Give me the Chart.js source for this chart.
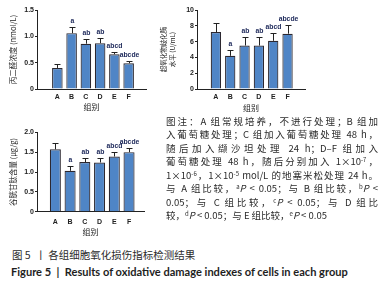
<!DOCTYPE html>
<html lang="zh">
<head>
<meta charset="utf-8">
<script src="https://cdn.jsdelivr.net/npm/chart.js@4.4.0/dist/chart.umd.min.js"></script>
<style>
  html, body { margin: 0; padding: 0; background: #fff; }
  body { width: 390px; height: 287px; position: relative; overflow: hidden;
         font-family: "Noto Sans CJK SC", sans-serif; color: #2b2b2b; }
  canvas { position: absolute; }
  .note { position: absolute; left: 166px; top: 114.8px; width: 212px;
          font-size: 9.5px; line-height: 13.5px; }
  .note div { text-align: justify; text-align-last: justify; height: 13.5px; }
  .note div.last { text-align-last: left; }
  sup { font-size: 6px; vertical-align: 3.5px; line-height: 0; }
  .cap1 { position: absolute; left: 12px; top: 249px; font-size: 10.5px; line-height: 12px; white-space: nowrap; }
  .cap2 { position: absolute; left: 11px; top: 266px; font-size: 10px; line-height: 12px; white-space: nowrap;
          font-family: Lato, "Liberation Sans", sans-serif; font-weight: bold; color: #1e1e1e; }
</style>
</head>
<body>
<canvas id="mdaChart" width="150" height="115" style="left:0;top:0"></canvas>
<canvas id="sodChart" width="155" height="115" style="left:155px;top:0"></canvas>
<canvas id="gshChart" width="150" height="122" style="left:0;top:120px"></canvas>

<div class="note">
  <div>图注：A 组常规培养，不进行处理；B 组加</div>
  <div>入葡萄糖处理；C 组加入葡萄糖处理 48 h，</div>
  <div>随后加入缬沙坦处理 24 h；D–F 组加入</div>
  <div>葡萄糖处理 48 h，随后分别加入 1×10<sup>-7</sup>，</div>
  <div>1×10<sup>-6</sup>，1×10<sup>-5</sup> mol/L 的地塞米松处理 24 h。</div>
  <div>与 A 组比较，<sup>a</sup><i>P</i> &lt; 0.05；与 B 组比较，<sup>b</sup><i>P</i> &lt;</div>
  <div>0.05；与 C 组比较，<sup>c</sup><i>P</i> &lt; 0.05；与 D 组比</div>
  <div class="last">较，<sup>d</sup><i>P</i> &lt; 0.05；与 E 组比较，<sup>e</sup><i>P</i> &lt; 0.05</div>
</div>
<div class="cap1">图 5 &nbsp;丨 各组细胞氧化损伤指标检测结果</div>
<div class="cap2" id="cap2">Figure 5 &nbsp;| &nbsp;Results of oxidative damage indexes of cells in each group</div>

<script>
// 1. Data
const groups = ['A', 'B', 'C', 'D', 'E', 'F'];

const mdaMeans = [0.40, 1.06, 0.86, 0.87, 0.66, 0.49];
const mdaErr   = [0.07, 0.12, 0.09, 0.10, 0.05, 0.04];
const mdaSig   = ['', 'a', 'ab', 'ab', 'abcd', 'abcde'];

const sodMeans = [7.2, 4.2, 5.5, 5.5, 6.1, 7.0];
const sodErr   = [1.2, 0.8, 1.1, 1.1, 1.0, 1.1];
const sodSig   = ['', 'a', 'ab', 'ab', 'abcd', 'abcde'];

const gshMeans = [1.57, 1.03, 1.25, 1.24, 1.39, 1.50];
const gshErr   = [0.15, 0.11, 0.11, 0.11, 0.12, 0.11];
const gshSig   = ['', 'a', 'ab', 'ab', 'abcd', 'abcde'];

const mdaTicks = [0, 0.5, 1.0, 1.5];
const sodTicks = [0, 2, 4, 6, 8, 10];
const gshTicks = [0, 0.5, 1.0, 1.5, 2.0];

// Global style
const BAR_FILL = '#4f85c6';
const BAR_EDGE = '#2c2830';
const INK = '#222';
const SIG_COLOR = '#1a2658';

// 2. Plugin: error bar (atas sahaja) + huruf signifikan
const errorBarPlugin = {
    id: 'errorBars',
    afterDatasetsDraw(chart, args, opts) {
        const { ctx, scales: { x, y } } = chart;
        const ds = chart.data.datasets[0];
        ctx.save();
        ctx.strokeStyle = INK;
        ctx.lineWidth = 1;
        ctx.fillStyle = SIG_COLOR;
        ctx.font = 'bold 6.8px "Liberation Sans", sans-serif';
        ctx.textAlign = 'center';
        ctx.textBaseline = 'middle';
        ds.data.forEach((pt, i) => {
            const px = Math.round(x.getPixelForValue(pt.x)) + 0.5;
            const base = y.getPixelForValue(pt.y);
            const top = Math.round(y.getPixelForValue(pt.y + opts.err[i])) + 0.5;
            ctx.beginPath();
            ctx.moveTo(px, base);
            ctx.lineTo(px, top);
            ctx.moveTo(px - 3, top);
            ctx.lineTo(px + 3, top);
            ctx.stroke();
            if (opts.sig[i]) ctx.fillText(opts.sig[i], px, top - 6);
        });
        ctx.restore();
    }
};

// 3. Fungsi bina carta
function makeChart(id, cfg) {
    const ctx = document.getElementById(id).getContext('2d');
    const tickFont = { family: '"Liberation Sans", sans-serif', size: 7, weight: 'bold' };
    return new Chart(ctx, {
        type: 'bar',
        data: {
            datasets: [{
                data: cfg.means.map((v, i) => ({ x: i, y: v })),
                backgroundColor: BAR_FILL,
                borderColor: BAR_EDGE,
                borderWidth: 1.2,
                barPercentage: cfg.barPct,
                categoryPercentage: 1
            }]
        },
        options: {
            responsive: false,
            animation: false,
            events: [],
            layout: { padding: cfg.padding },
            plugins: {
                legend: { display: false },
                tooltip: { enabled: false },
                errorBars: { err: cfg.err, sig: cfg.sig }
            },
            scales: {
                x: {
                    type: 'linear',
                    min: cfg.xMin,
                    max: cfg.xMax,
                    afterFit: s => { s.height = cfg.xHeight; },
                    grid: { display: false, drawTicks: false },
                    border: { display: true, color: INK, width: 1 },
                    ticks: {
                        stepSize: 1,
                        includeBounds: false,
                        autoSkip: false,
                        maxRotation: 0,
                        padding: cfg.xPad,
                        color: INK,
                        font: tickFont,
                        callback: v => Number.isInteger(v) ? (groups[v] || '') : ''
                    },
                    title: {
                        display: true,
                        text: '组别',
                        color: INK,
                        font: { family: '"Noto Sans CJK SC"', size: 8 },
                        padding: { top: 0, bottom: cfg.xTitlePad }
                    }
                },
                y: {
                    min: cfg.ticks[0],
                    max: cfg.ticks[cfg.ticks.length - 1],
                    afterFit: s => { s.width = cfg.yWidth; },
                    afterBuildTicks: s => { s.ticks = cfg.ticks.map(v => ({ value: v })); },
                    grid: { display: true, drawOnChartArea: false, drawTicks: true, tickLength: 2, color: INK },
                    border: { display: true, color: INK, width: 1 },
                    ticks: {
                        padding: 1,
                        color: INK,
                        font: tickFont,
                        callback: cfg.fmt
                    },
                    title: {
                        display: true,
                        text: cfg.yTitle,
                        color: INK,
                        font: { family: '"Noto Sans CJK SC"', size: cfg.yTitleSize, lineHeight: 1.4 },
                        padding: { top: cfg.yTitlePad, bottom: 0 }
                    }
                }
            }
        },
        plugins: [errorBarPlugin]
    });
}

const oneDec = v => v === 0 ? '0' : v.toFixed(1);

makeChart('mdaChart', {
    means: mdaMeans, err: mdaErr, sig: mdaSig, ticks: mdaTicks, fmt: oneDec,
    padding: { top: 10, right: 4, left: 0, bottom: 0 },
    xMin: -0.79, xMax: 5.58, barPct: 0.74,
    xHeight: 26, xPad: 3.8, xTitlePad: 3.2,
    yWidth: 37, yTitle: '丙二醛浓度 (nmol/L)', yTitleSize: 7.5, yTitlePad: 7.7
});

makeChart('sodChart', {
    means: sodMeans, err: sodErr, sig: sodSig, ticks: sodTicks, fmt: v => String(v),
    padding: { top: 10, right: 5, left: 0, bottom: 0 },
    xMin: -0.69, xMax: 5.59, barPct: 0.72,
    xHeight: 26, xPad: 3.8, xTitlePad: 1.9,
    yWidth: 42, yTitle: ['超氧化物歧化酶', '水平 (U/mL)'], yTitleSize: 6.5, yTitlePad: 3.5
});

makeChart('gshChart', {
    means: gshMeans, err: gshErr, sig: gshSig, ticks: gshTicks, fmt: oneDec,
    padding: { top: 12.3, right: 6, left: 0, bottom: 0 },
    xMin: -0.64, xMax: 5.41, barPct: 0.75,
    xHeight: 30.3, xPad: 5.8, xTitlePad: 5.5,
    yWidth: 37, yTitle: '谷胱甘肽含量 (μg/g)', yTitleSize: 7.5, yTitlePad: 7.7
});

// 4. Laraskan lebar kapsyen Inggeris
(function fitCaption() {
    const el = document.getElementById('cap2');
    const w = el.getBoundingClientRect().width;
    const fs = parseFloat(getComputedStyle(el).fontSize);
    el.style.fontSize = (fs * 337 / w).toFixed(2) + 'px';
})();
</script>
</body>
</html>
